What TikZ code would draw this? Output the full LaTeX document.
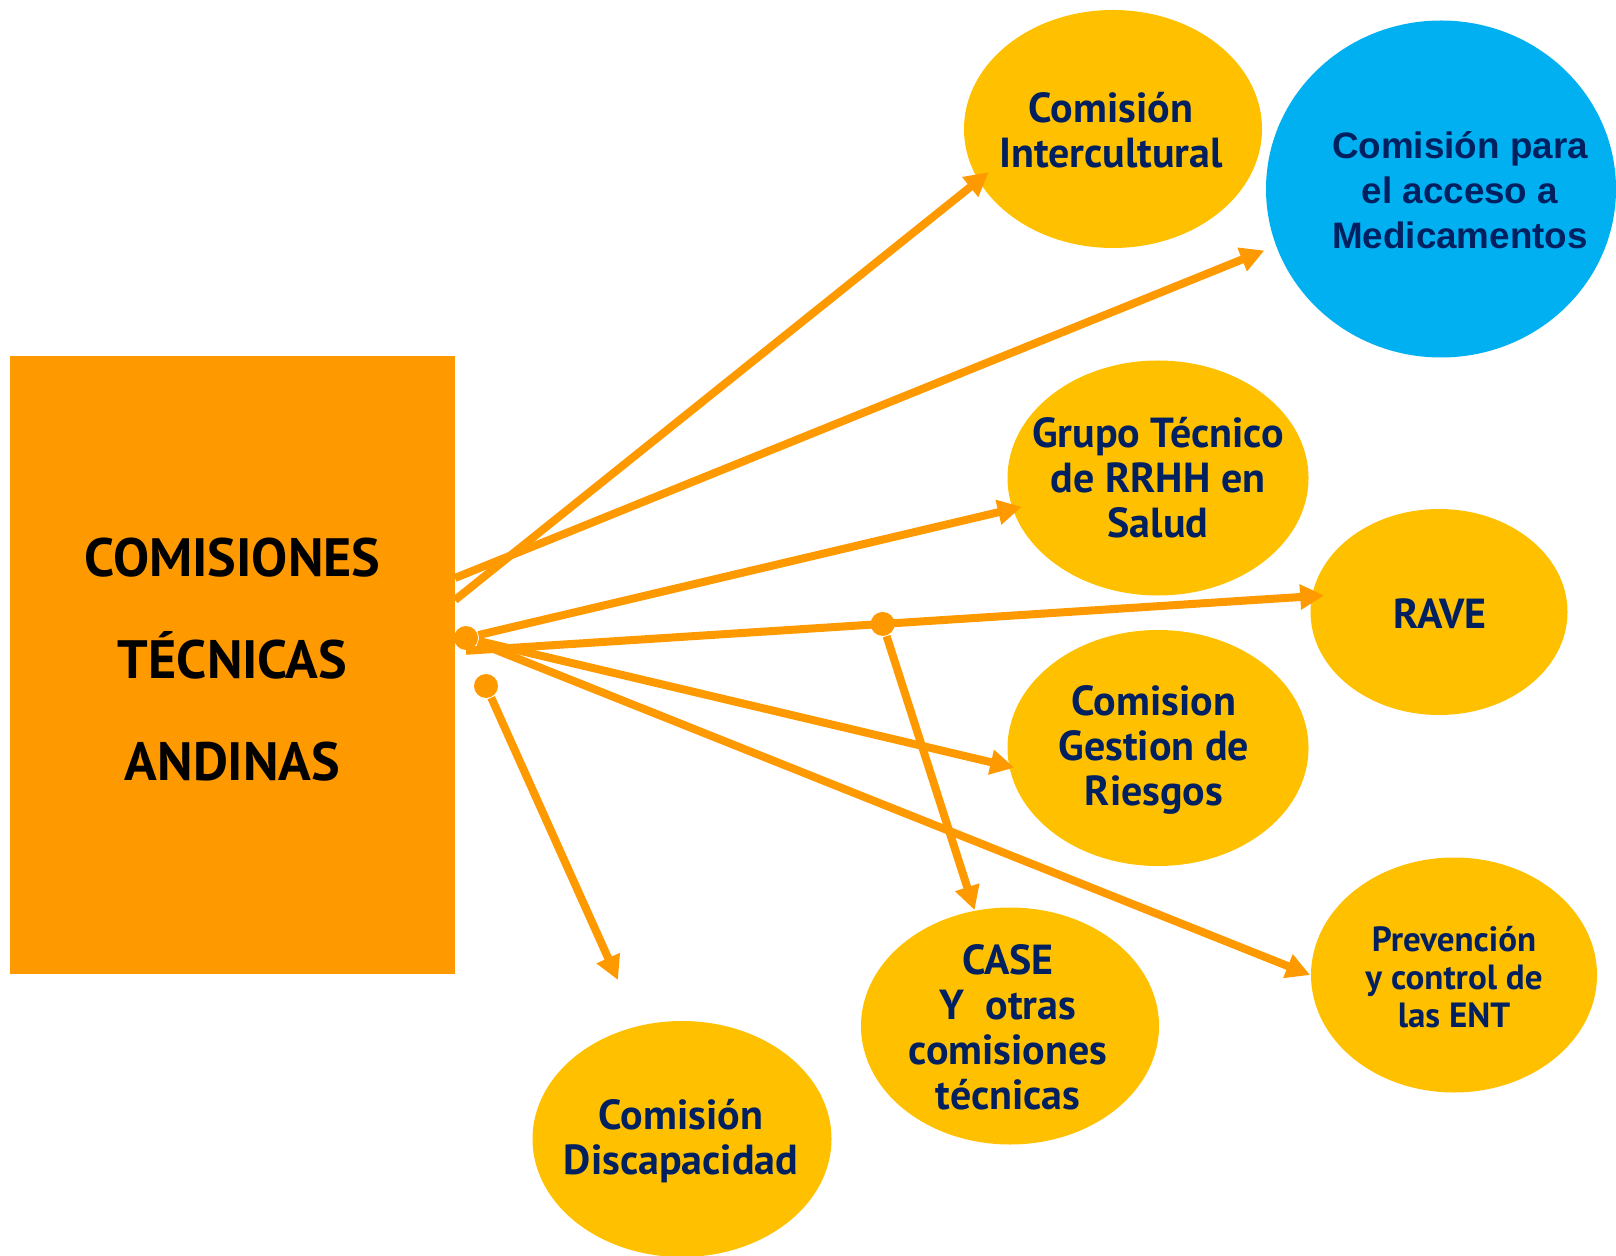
\documentclass[tikz,border=0pt]{standalone}
\usepackage{fontspec}
\setmainfont{PT Sans}
\newfontfamily\arialfont{Liberation Sans}
\usetikzlibrary{shapes.geometric}
\usetikzlibrary{arrows.meta}
\definecolor{boxorange}{HTML}{FF9900}
\definecolor{comyellow}{HTML}{FFC000}
\definecolor{comblue}{HTML}{00B0F0}
\definecolor{navy}{HTML}{002060}

\begin{document}
\begin{tikzpicture}[x=0.5pt,y=-0.5pt,>={Triangle[length=12pt,width=12pt]},
                thick,comision/.style={ellipse,fill=comyellow,inner sep=0pt},
                label text/.style={text=navy,align=center,font=\bfseries\fontsize{21}{22.5}\selectfont},
                link/.style={draw=boxorange,line width=4pt,->},
                dot/.style={circle,fill=boxorange,inner sep=0pt,minimum size=12pt}]

  \useasboundingbox (0,0) rectangle (1616,1256);

  \node[fill=boxorange,minimum width=222.5pt,minimum height=309pt,inner sep=0pt] (box) at (232.5,665) {};
  \node[align=center,font=\bfseries\fontsize{27}{51}\selectfont] (box txt) at (232.5,660) {COMISIONES\\TÉCNICAS\\ANDINAS};

  \node[comision,minimum width=149pt,minimum height=119pt] (inter) at (1113,129) {};
  \node[ellipse,fill=comblue,inner sep=0pt,minimum width=175pt,minimum height=168.5pt] (acceso) at (1441,189) {};
  \node[comision,minimum width=150.5pt,minimum height=117.5pt] (grupo) at (1158,478) {};
  \node[comision,minimum width=128.5pt,minimum height=103pt] (rave) at (1439,612) {};
  \node[comision,minimum width=150.5pt,minimum height=118pt] (riesgos) at (1158,748) {};
  \node[comision,minimum width=143pt,minimum height=117.5pt] (prev) at (1454,975) {};
  \node[comision,minimum width=149pt,minimum height=118.5pt] (case) at (1010,1026) {};
  \node[comision,minimum width=149.5pt,minimum height=118pt] (disc) at (682,1139) {};

  \node[label text] (inter txt) at (1111,130) {Comisión\\Intercultural};
  \node[label text,font=\arialfont\bfseries\fontsize{18.4}{22.5}\selectfont] (acceso txt) at (1460,190)
       {Comisión para\\el acceso a\\Medicamentos};
  \node[label text] (grupo txt) at (1158,478) {Grupo Técnico\\de RRHH en\\Salud};
  \node[label text] (rave txt) at (1440,614) {RAVE};
  \node[label text] (riesgos txt) at (1154,750) {Comision\\Gestion de\\Riesgos};
  \node[label text,font=\bfseries\fontsize{17.5}{19}\selectfont] (prev txt) at (1454,977)
       {Prevención\\y control de\\las ENT};
  \node[label text] (case txt) at (1008,1027) {CASE\\Y\ \ otras\\comisiones\\técnicas};
  \node[label text] (disc txt) at (681,1141) {Comisión\\Discapacidad};

  \node[dot] (hub) at (466,638) {};
  \path (hub.south) -- (rave.173) node[dot,pos=0.493] (split) {};
  \node[dot] (disc dot) at (486,686) {};
  \coordinate (from inter) at (455,600);
  \coordinate (from acceso) at (455,578);
  \coordinate (disc end) at (618,980);

  \path
    (from inter) edge [link,shorten >=-7pt] (inter.201)
    (from acceso) edge [link,shorten >=6pt] (acceso.199)
    (hub) edge [link,shorten >=-5pt] (grupo.192)
    (hub.south) edge [link,shorten >=-6.5pt] (rave.173)
    (hub) edge [link,shorten >=-3pt] (riesgos.187)
    (hub) edge [link] (prev.west)
    (split) edge [link] (case.107)
    (disc dot) edge [link] (disc end);

\end{tikzpicture}
\end{document}
